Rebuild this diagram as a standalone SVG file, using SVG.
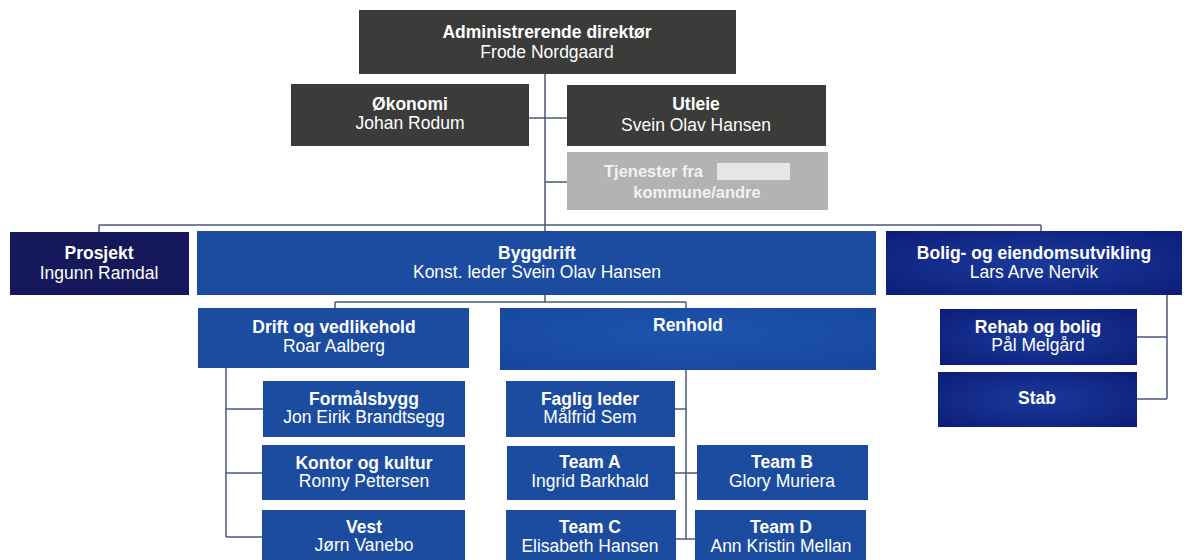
<svg xmlns="http://www.w3.org/2000/svg" width="1187" height="560" viewBox="0 0 1187 560">
<defs>
<radialGradient id="navy" cx="0.5" cy="0.5" r="0.7">
<stop offset="0" stop-color="#1a3a9c"/>
<stop offset="1" stop-color="#0c1d78"/>
</radialGradient>
<radialGradient id="ren" cx="0.5" cy="0.4" r="0.7">
<stop offset="0" stop-color="#1d55ad"/>
<stop offset="1" stop-color="#1746a0"/>
</radialGradient>
<style>
text{font-family:"Liberation Sans",Arial,sans-serif;font-size:17.5px;fill:#ffffff;text-anchor:middle}
.b{font-weight:bold}
.gray{fill:#3b3b39}
.light{fill:#b3b3b1}
.blue{fill:#1b4c9f}
.dnavy{fill:#15195c}
.nv{fill:url(#navy)}
.conn line{stroke:#4a5878;stroke-width:1.5;fill:none}
</style>
</defs>
<rect width="1187" height="560" fill="#ffffff"/>
<g class="conn" id="connectors">
<line x1="545" y1="74" x2="545" y2="231"/>
<line x1="528" y1="118" x2="567" y2="118"/>
<line x1="545" y1="182" x2="567" y2="182"/>
<line x1="99" y1="225" x2="1041" y2="225"/>
<line x1="99" y1="225" x2="99" y2="232"/>
<line x1="1041" y1="225" x2="1041" y2="231"/>
<line x1="545" y1="295" x2="545" y2="302"/>
<line x1="335" y1="302" x2="686" y2="302"/>
<line x1="335" y1="302" x2="335" y2="308"/>
<line x1="686" y1="302" x2="686" y2="308"/>
<line x1="226" y1="368" x2="226" y2="537"/>
<line x1="226" y1="409" x2="263" y2="409"/>
<line x1="226" y1="473" x2="262" y2="473"/>
<line x1="226" y1="537" x2="262" y2="537"/>
<line x1="686" y1="370" x2="686" y2="539"/>
<line x1="675" y1="409" x2="686" y2="409"/>
<line x1="675" y1="473" x2="697" y2="473"/>
<line x1="676" y1="539" x2="695" y2="539"/>
<line x1="1167" y1="295" x2="1167" y2="399"/>
<line x1="1137" y1="337" x2="1167" y2="337"/>
<line x1="1137" y1="399" x2="1167" y2="399"/>
</g>
<g id="adm"><rect class="gray" x="359" y="10" width="377" height="64"/><text class="b" x="547" y="38">Administrerende direktør</text><text x="547" y="58">Frode Nordgaard</text></g>
<g id="okonomi"><rect class="gray" x="291" y="84" width="238" height="62"/><text class="b" x="410" y="110">Økonomi</text><text x="410" y="129">Johan Rodum</text></g>
<g id="utleie"><rect class="gray" x="567" y="85" width="259" height="61"/><text class="b" x="696" y="110">Utleie</text><text x="696" y="131">Svein Olav Hansen</text></g>
<g id="tjenester"><rect class="light" x="567" y="152" width="261" height="58"/><text class="b" x="604" y="177" style="text-anchor:start;fill:#f2f2f2;font-size:16.5px">Tjenester fra</text><rect x="717" y="163" width="73" height="17" fill="#e6e6e6"/><text class="b" x="697" y="198" style="fill:#f2f2f2;font-size:16.5px">kommune/andre</text></g>
<g id="prosjekt"><rect class="dnavy" x="10" y="232" width="179" height="63"/><text class="b" x="99" y="259">Prosjekt</text><text x="99" y="279">Ingunn Ramdal</text></g>
<g id="byggdrift"><rect class="blue" x="197" y="231" width="679" height="64"/><text class="b" x="537" y="259">Byggdrift</text><text x="537" y="278">Konst. leder Svein Olav Hansen</text></g>
<g id="bolig"><rect class="nv" x="886" y="231" width="296" height="64"/><text class="b" x="1034" y="259">Bolig- og eiendomsutvikling</text><text x="1034" y="278">Lars Arve Nervik</text></g>
<g id="drift"><rect class="blue" x="198" y="308" width="271" height="60"/><text class="b" x="334" y="333">Drift og vedlikehold</text><text x="334" y="352">Roar Aalberg</text></g>
<g id="renhold"><rect x="500" y="308" width="376" height="62" fill="url(#ren)"/><text class="b" x="688" y="331">Renhold</text></g>
<g id="rehab"><rect class="nv" x="940" y="309" width="197" height="56"/><text class="b" x="1038" y="333">Rehab og bolig</text><text x="1038" y="351">Pål Melgård</text></g>
<g id="stab"><rect class="nv" x="938" y="372" width="199" height="55"/><text class="b" x="1037" y="404">Stab</text></g>
<g id="formalsbygg"><rect class="blue" x="263" y="381" width="202" height="56"/><text class="b" x="364" y="405">Formålsbygg</text><text x="364" y="423">Jon Eirik Brandtsegg</text></g>
<g id="kontor"><rect class="blue" x="262" y="445" width="203" height="55"/><text class="b" x="364" y="469">Kontor og kultur</text><text x="364" y="487">Ronny Pettersen</text></g>
<g id="vest"><rect class="blue" x="262" y="510" width="203" height="52"/><text class="b" x="364" y="533">Vest</text><text x="364" y="551">Jørn Vanebo</text></g>
<g id="faglig"><rect class="blue" x="506" y="381" width="169" height="56"/><text class="b" x="590" y="405">Faglig leder</text><text x="590" y="423">Målfrid Sem</text></g>
<g id="teamA"><rect class="blue" x="507" y="446" width="168" height="54"/><text class="b" x="590" y="468">Team A</text><text x="590" y="487">Ingrid Barkhald</text></g>
<g id="teamC"><rect class="blue" x="506" y="510" width="170" height="52"/><text class="b" x="590" y="533">Team C</text><text x="590" y="552">Elisabeth Hansen</text></g>
<g id="teamB"><rect class="blue" x="697" y="445" width="171" height="55"/><text class="b" x="782" y="468">Team B</text><text x="782" y="487">Glory Muriera</text></g>
<g id="teamD"><rect class="blue" x="695" y="510" width="171" height="52"/><text class="b" x="781" y="533">Team D</text><text x="781" y="552">Ann Kristin Mellan</text></g>
</svg>
